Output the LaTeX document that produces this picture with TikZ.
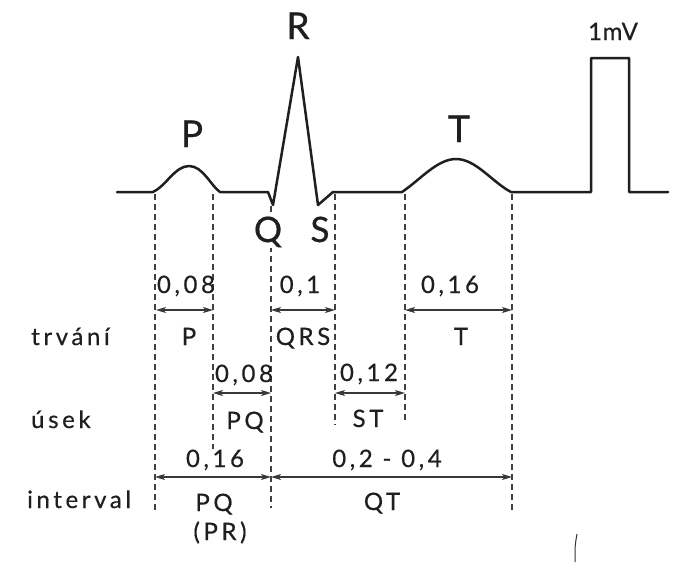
\documentclass[tikz,border=0pt]{standalone}
\usepackage{fontspec}
\setmainfont{Lato}
\newfontfamily\lblfont{Lato}[LetterSpace=15, FakeBold=0.5]
\newfontfamily\mvfont{Lato}[LetterSpace=3, FakeBold=0.5]
\newfontfamily\bigfont{Lato}[FakeBold=0.8]
\usetikzlibrary{arrows.meta}
\begin{document}
\begin{tikzpicture}[x=1pt,y=-1pt,
  ecg/.style={line width=2.5pt, line join=round, line cap=round, black!88},
  guide/.style={dash pattern=on 6pt off 4pt, line width=1.1pt, black!75},
  dim/.style={{Stealth[length=10pt,width=6pt,inset=2.5pt]}-{Stealth[length=10pt,width=6pt,inset=2.5pt]}, line width=1.3pt, black!78},
  big/.style={font=\bigfont\fontsize{37}{40}\selectfont, inner sep=0pt, anchor=base, text=black!88},
  num/.style={font=\lblfont\fontsize{24}{27}\selectfont, inner sep=0pt, anchor=base, text=black!88},
  rowlbl/.style={num, anchor=base west}]
\useasboundingbox[fill=white] (0,0) rectangle (677,566);

% guide coordinates
\coordinate (g1t) at (155,194); \coordinate (g1b) at (155,513);
\coordinate (g2t) at (213,194); \coordinate (g2b) at (213,449);
\coordinate (g3t) at (271,206); \coordinate (g3b) at (271,508);
\coordinate (g4t) at (335,194); \coordinate (g4b) at (335,425);
\coordinate (g5t) at (405,194); \coordinate (g5b) at (405,423);
\coordinate (g6t) at (512,194); \coordinate (g6b) at (512,512);

\draw[guide] (g1t) -- (g1b);
\draw[guide] (g2t) -- (g2b);
\draw[guide] (g3t) -- (g3b);
\draw[guide] (g4t) -- (g4b);
\draw[guide] (g5t) -- (g5b);
\draw[guide] (g6t) -- (g6b);

% wave labels
\node[big] (lR) at (298,39) {R};
\node[big] (lP) at (192,147) {P};
\node[big] (lT) at (459,142) {T};
\node[big, font=\bigfont\fontsize{35}{38}\selectfont, fill=white, inner sep=1pt] (lQ) at (268,242) {Q};
\node[big, font=\bigfont\fontsize{35}{38}\selectfont] (lS) at (320,242) {S};
\node[anchor=base, inner sep=0pt, font=\mvfont\fontsize{24}{26}\selectfont, text=black!88] (lmV) at (613,40) {1mV};

% ECG trace
\draw[ecg] (117,192) -- (153,192)
  .. controls (166,186) and (175,166) .. (189,166)
  .. controls (203,166) and (211,186) .. (220,192)
  -- (268,192) -- (273,205) -- (298,57) -- (318,205) -- (333,192) -- (402,192)
  .. controls (420,180) and (437,159) .. (456,159)
  .. controls (476,159) and (492,182) .. (511,192)
  -- (591,192) -- (591,58) -- (629,58) -- (629,192) -- (668,192);

% arrow ends
\coordinate (a1l) at (156,310); \coordinate (a1r) at (213,310);
\coordinate (a2l) at (271,310); \coordinate (a2r) at (335,310);
\coordinate (a3l) at (405,310); \coordinate (a3r) at (512,310);
\coordinate (b1l) at (213,393); \coordinate (b1r) at (271,393);
\coordinate (b2l) at (335,393); \coordinate (b2r) at (405,393);
\coordinate (c1l) at (155,477); \coordinate (c1r) at (271,477);
\coordinate (c2l) at (271,477); \coordinate (c2r) at (512,477);

\draw[dim] (a1l) -- (a1r);
\draw[dim] (a2l) -- (a2r);
\draw[dim] (a3l) -- (a3r);
\draw[dim] (b1l) -- (b1r);
\draw[dim] (b2l) -- (b2r);
\draw[dim] (c1l) -- (c1r);
\draw[dim] (c2l) -- (c2r);

% row 1
\node[num] (n1) at (186,293) {0,08};
\node[num] (t1) at (189,345) {P};
\node[num] (n2) at (300,293) {0,1};
\node[num] (t2) at (303,345) {QRS};
\node[num] (n3) at (450,293) {0,16};
\node[num] (t3) at (461,345) {T};
% row 2
\node[num] (n4) at (244,382) {0,08};
\node[num] (t4) at (245,429) {PQ};
\node[num] (n5) at (369,381) {0,12};
\node[num] (t5) at (368,427) {ST};
% row 3
\node[num] (n6) at (215,467) {0,16};
\node[num] (t6) at (214,511) {PQ};
\node[num] (t7) at (220,540) {(PR)};
\node[num] (n7) at (387,467) {0,2 - 0,4};
\node[num] (t8) at (382,510) {QT};

% row labels
\node[rowlbl] (r1) at (31,345) {trvání};
\node[rowlbl] (r2) at (31,428) {úsek};
\node[rowlbl] (r3) at (27,508) {interval};

% stray mark
\draw[line width=1pt, black!80] (577,534) .. controls (575,545) .. (575,562);
\end{tikzpicture}
\end{document}
